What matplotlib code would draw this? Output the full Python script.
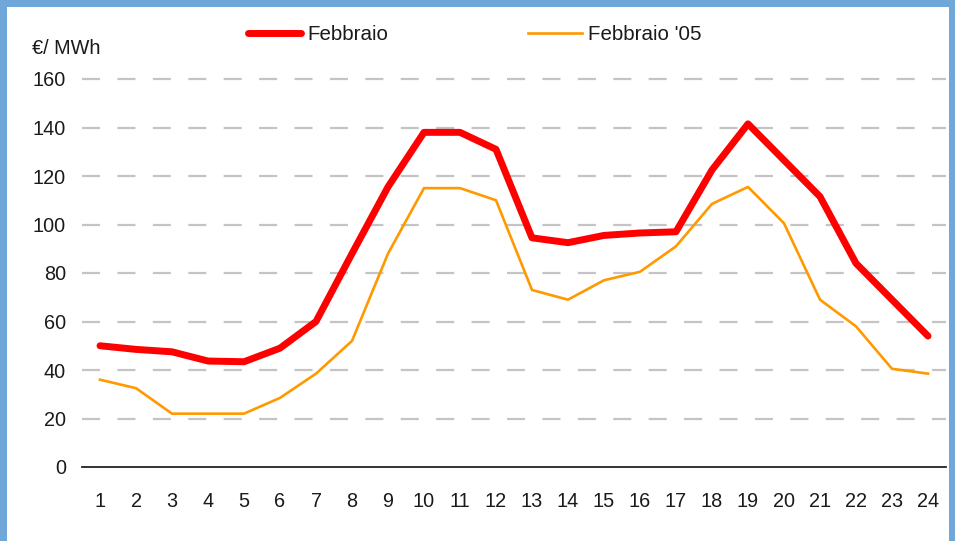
import matplotlib.pyplot as plt
from matplotlib.patches import Rectangle

plt.rcParams['font.family'] = ['Liberation Sans', 'DejaVu Sans']
plt.rcParams['lines.scale_dashes'] = False

hours = list(range(1, 25))
feb = [50, 48.5, 47.5, 43.7, 43.4, 49, 60, 88, 115.5, 138, 138, 131,
       94.5, 92.5, 95.5, 96.5, 97, 122.5, 141.5, 126.5, 111.5, 84, 69, 54]
feb_05 = [36, 32.5, 22, 22, 22, 28.5, 38.5, 52, 88, 115, 115, 110,
          73, 69, 77, 80.5, 91, 108.5, 115.5, 100.5, 69, 58, 40.5, 38.5]
y_ticks = [0, 20, 40, 60, 80, 100, 120, 140, 160]

fig = plt.figure(figsize=(9.55, 5.41), dpi=100, facecolor='#6fa7d9')
# white panel on the blue background
panel = Rectangle((7 / 955, 0), 942 / 955, 534 / 541,
                  transform=fig.transFigure, facecolor='white',
                  edgecolor='none', zorder=-10)
fig.patches.append(panel)

ax = fig.add_axes([82 / 955, 74 / 541, 864 / 955, 388 / 541])
ax.set_facecolor('none')

ax.plot(hours, feb, color='#ff0000', lw=5, solid_capstyle='round',
        solid_joinstyle='round', label='Febbraio', zorder=3)
ax.plot(hours, feb_05, color='#ff9900', lw=1.9, label="Febbraio '05", zorder=2)

ax.set_xlim(0.5, 24.5)
ax.set_ylim(0, 160)
ax.set_xticks(hours)
ax.set_yticks(y_ticks)
for y in y_ticks[1:]:
    ax.axhline(y, color='#c4c4c4', lw=1.6, linestyle=(0, (13, 12.5)),
               zorder=1, clip_on=False)

for side in ['top', 'right', 'left']:
    ax.spines[side].set_visible(False)
ax.spines['bottom'].set_color('#222222')
ax.spines['bottom'].set_linewidth(1.3)
ax.tick_params(axis='both', length=0, labelsize=14.3, colors='#1a1a1a')
ax.tick_params(axis='x', pad=18)
ax.tick_params(axis='y', pad=11.5)

fig.text(32 / 955, 1 - 54 / 541, '€/ MWh', fontsize=14.3, color='#1a1a1a',
         va='baseline', ha='left')

fig.legend(loc='center left', bbox_to_anchor=(248 / 955, 1 - 35 / 541),
           ncol=2, frameon=False, fontsize=14.8, handlelength=2.6,
           handletextpad=0.3, columnspacing=6.8, borderpad=0,
           borderaxespad=0, labelcolor='#1a1a1a')

fig.savefig('out.png', dpi=100, facecolor=fig.get_facecolor())
